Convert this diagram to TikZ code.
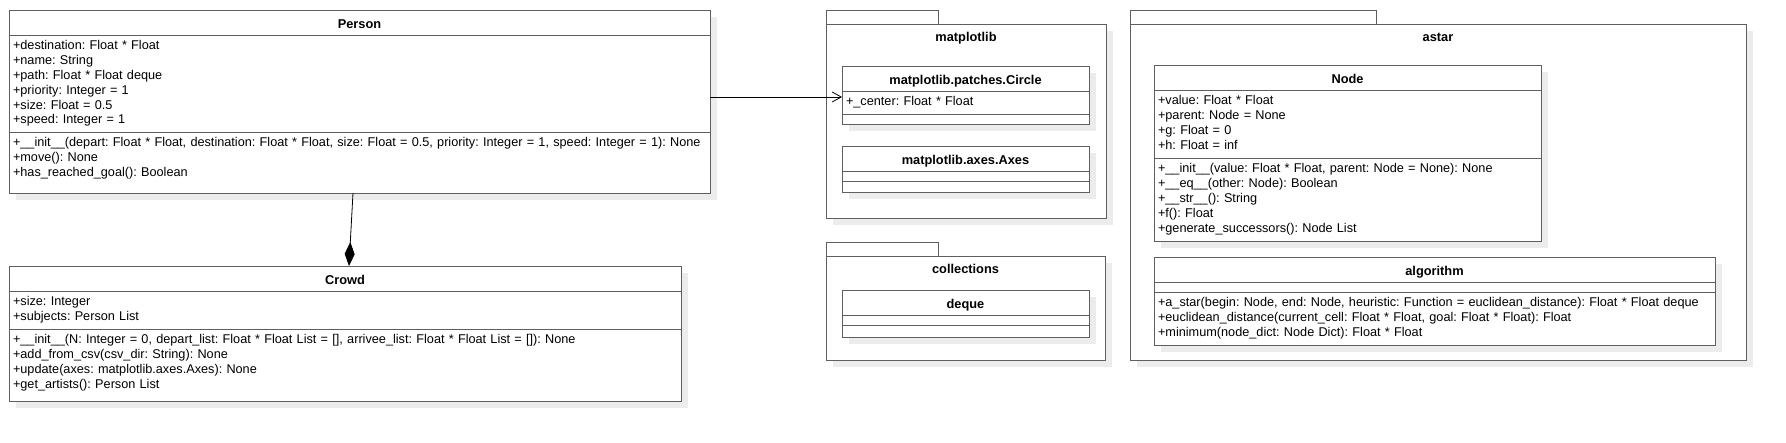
\documentclass[tikz,border=0pt]{standalone}
\usepackage{fontspec}
\setmainfont{Liberation Sans}
\frenchspacing
\usetikzlibrary{positioning,shadows,arrows.meta}
\definecolor{umlgray}{RGB}{95,95,95}
\definecolor{shadowgray}{RGB}{236,236,236}
\tikzstyle{umlbox} = [rectangle, draw=umlgray, line width=1pt, fill=white, outer sep=0pt, drop shadow={shadow xshift=7pt, shadow yshift=-7pt, fill=shadowgray, opacity=1}]
\tikzstyle{classhead} = [umlbox, minimum height=25pt, inner sep=0pt, text height=11pt, text depth=0pt, font=\bfseries\fontsize{12.8}{14.8}\selectfont]
\tikzstyle{emptysect} = [umlbox, minimum height=10pt, inner sep=0pt]
\tikzstyle{pkgtab} = [rectangle, draw=umlgray, line width=1pt, fill=white, outer sep=0pt, minimum height=14pt, inner sep=0pt]
\tikzstyle{pkg} = [umlbox, inner sep=0pt]
\tikzstyle{pkgtitle} = [inner sep=0pt, text height=10pt, text depth=0pt, font=\bfseries\fontsize{12.8}{14.8}\selectfont]
\tikzstyle{assoc} = [line width=0.8pt, -{Straight Barb[length=9pt,width=10pt]}]
\tikzstyle{compo} = [line width=0.8pt, -{Diamond[length=24pt,width=10pt]}]
\tikzset{classsect/.style={umlbox, inner xsep=4pt, inner ysep=4pt, align=left, font=\fontsize{12.7}{14.8}\selectfont, text height=10.8pt, text depth=#1-18.8pt}}

\begin{document}
\begin{tikzpicture}[x=1pt, y=-1pt]
\useasboundingbox (0,0) rectangle (1786,442);

% packages
\node (mplTab) [pkgtab, minimum width=112pt, anchor=south west] at (826,24) {};
\node (mpl) [pkg, minimum width=280pt, minimum height=194pt, anchor=north west] at (826,24) {};
\node (mplTitle) [pkgtitle, below=7.5pt of mpl.north] {matplotlib};

\node (colTab) [pkgtab, minimum width=112pt, anchor=south west] at (826,256) {};
\node (col) [pkg, minimum width=279pt, minimum height=104pt, anchor=north west] at (826,256) {};
\node (colTitle) [pkgtitle, below=7.5pt of col.north] {collections};

\node (astarTab) [pkgtab, minimum width=246pt, anchor=south west] at (1130,24) {};
\node (astar) [pkg, minimum width=616pt, minimum height=336pt, anchor=north west] at (1130,24) {};
\node (astarTitle) [pkgtitle, below=7.5pt of astar.north] {astar};

% Person
\node (person) [classhead, minimum width=701pt, anchor=north west] at (9,10) {Person};
\node (personattr) [classsect=97pt, text width=693pt, below=0pt of person] {+destination: Float * Float\\
+name: String\\
+path: Float * Float deque\\
+priority: Integer = 1\\
+size: Float = 0.5\\
+speed: Integer = 1};
\node (personmeth) [classsect=61pt, text width=693pt, below=0pt of personattr] {\mbox{+\_\_init\_\_(depart: Float * Float, destination: Float * Float, size: Float = 0.5, priority: Integer = 1, speed: Integer = 1): None}\\
+move(): None\\
+has\_reached\_goal(): Boolean};

% Crowd
\node (crowd) [classhead, minimum width=672pt, anchor=north west] at (9,266) {Crowd};
\node (crowdattr) [classsect=38pt, text width=664pt, below=0pt of crowd] {+size: Integer\\
+subjects: Person List};
\node (crowdmeth) [classsect=72pt, text width=664pt, below=0pt of crowdattr] {+\_\_init\_\_(N: Integer = 0, depart\_list: Float * Float List = [], arrivee\_list: Float * Float List = []): None\\
+add\_from\_csv(csv\_dir: String): None\\
+update(axes: matplotlib.axes.Axes): None\\
+get\_artists(): Person List};

% matplotlib classes
\node (circle) [classhead, minimum width=247pt, anchor=north west] at (842,66) {matplotlib.patches.Circle};
\node (circleattr) [classsect=23pt, text width=239pt, below=0pt of circle] {+\_center: Float * Float};
\node (circlemeth) [emptysect, minimum width=247pt, below=0pt of circleattr] {};

\node (axes) [classhead, minimum width=247pt, anchor=north west] at (842,146) {matplotlib.axes.Axes};
\node (axesattr) [emptysect, minimum width=247pt, below=0pt of axes] {};
\node (axesmeth) [emptysect, minimum width=247pt, minimum height=11pt, below=0pt of axesattr] {};

% collections classes
\node (deque) [classhead, minimum width=247pt, anchor=north west] at (842,290) {deque};
\node (dequeattr) [emptysect, minimum width=247pt, below=0pt of deque] {};
\node (dequemeth) [emptysect, minimum width=247pt, minimum height=12pt, below=0pt of dequeattr] {};

% astar classes
\node (node) [classhead, minimum width=387pt, anchor=north west] at (1154,65) {Node};
\node (nodeattr) [classsect=68pt, text width=379pt, below=0pt of node] {+value: Float * Float\\
+parent: Node = None\\
+g: Float = 0\\
+h: Float = inf};
\node (nodemeth) [classsect=83pt, text width=379pt, below=0pt of nodeattr] {+\_\_init\_\_(value: Float * Float, parent: Node = None): None\\
+\_\_eq\_\_(other: Node): Boolean\\
+\_\_str\_\_(): String\\
+f(): Float\\
+generate\_successors(): Node List};

\node (algo) [classhead, minimum width=561pt, anchor=north west] at (1154,257) {algorithm};
\node (algoattr) [emptysect, minimum width=561pt, below=0pt of algo] {};
\node (algometh) [classsect=53pt, text width=553pt, below=0pt of algoattr] {\mbox{+a\_star(begin: Node, end: Node, heuristic: Function = euclidean\_distance): Float * Float deque}\\
+euclidean\_distance(current\_cell: Float * Float, goal: Float * Float): Float\\
+minimum(node\_dict: Node Dict): Float * Float};

% connectors
\coordinate (circleIn) at ([yshift=5.5pt]circleattr.west);
\draw [assoc] (personattr.east |- circleIn) -- (circleIn);
\draw [compo] ([xshift=-6.5pt]personmeth.south) -- ([xshift=4pt]crowd.north);
\end{tikzpicture}
\end{document}
